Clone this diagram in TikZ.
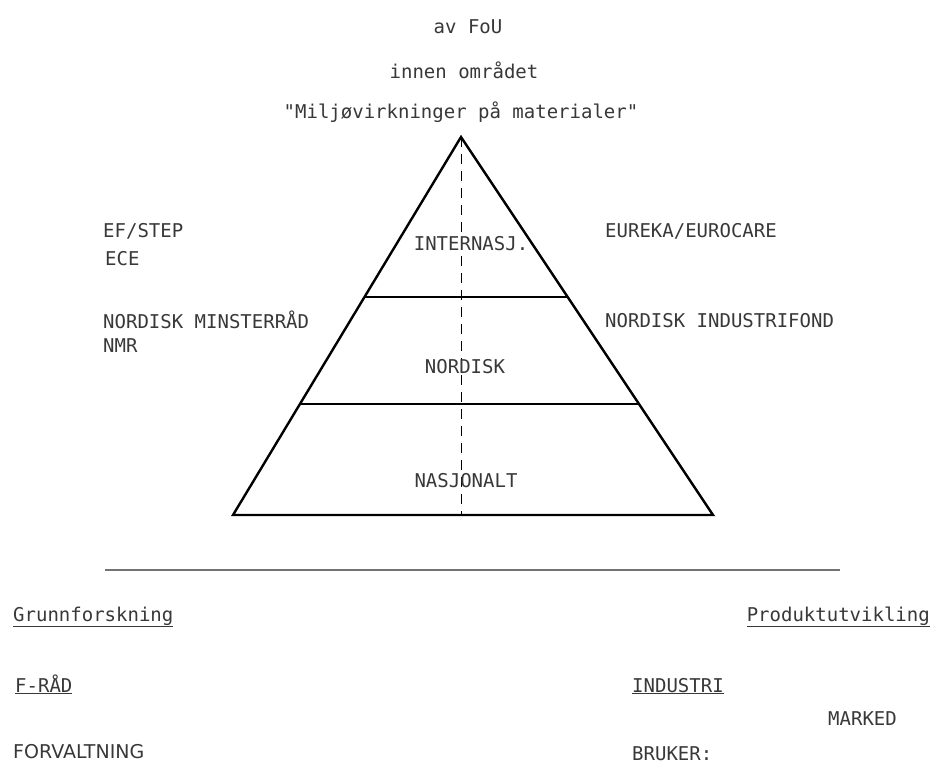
\documentclass[tikz,border=0pt]{standalone}
\usepackage{fontspec}
\setmonofont{DejaVu Sans Mono}
\newfontfamily\plainsans{DejaVu Sans}
\usetikzlibrary{calc}
\tikzstyle{lbl}=[inner sep=0pt,text=black!78,font=\fontsize{19}{19}\selectfont\ttfamily]
\tikzstyle{lblsans}=[inner sep=0pt,text=black!78,font=\fontsize{19}{19}\selectfont\plainsans]
\tikzstyle{layer}=[line width=2.4pt,line join=miter]
\tikzstyle{axis}=[line width=0.8pt,dash pattern=on 10pt off 7pt]
\tikzstyle{rule}=[line width=1.3pt,black!55]

\begin{document}
\begin{tikzpicture}[x=1pt,y=-1pt]
\useasboundingbox (0,0) rectangle (936,763);
% title
\node[lbl,anchor=base] (fou) at (468,33) {av FoU};
\node[lbl,anchor=base] (omr) at (464,78) {innen området};
\node[lbl,anchor=base] (mat) at (461,118) {"Miljøvirkninger på materialer"};

% pyramid
\coordinate (top) at (461,137);
\coordinate (bl) at (233,515);
\coordinate (br) at (713,515);
\coordinate (foot) at (461,515);
\draw[layer] (top) -- (bl) -- (br) -- cycle;
\draw[layer] ($(top)!0.423!(bl)$) -- ($(top)!0.423!(br)$);
\draw[layer] ($(top)!0.706!(bl)$) -- ($(top)!0.706!(br)$);
\draw[axis] (top) -- (foot);
\node[lbl,anchor=base] (intl) at (471,250) {INTERNASJ.};
\node[lbl,anchor=base] (nord) at (465,373) {NORDISK};
\node[lbl,anchor=base] (nasj) at (466,487) {NASJONALT};

% side labels
\node[lbl,anchor=base west] (efstep) at (103,237) {EF/STEP};
\node[lbl,anchor=base west] (ece) at (105,265) {ECE};
\node[lbl,anchor=base west] (nmrlong) at (103,328) {NORDISK MINSTERRÅD};
\node[lbl,anchor=base west] (nmr) at (103,352) {NMR};
\node[lbl,anchor=base west] (eureka) at (605,237) {EUREKA/EUROCARE};
\node[lbl,anchor=base west] (nif) at (605,327) {NORDISK INDUSTRIFOND};

% bottom part
\coordinate (rl) at (105,570);
\coordinate (rr) at (840,570);
\draw[rule] (rl) -- (rr);
\node[lbl,anchor=base west] (grunn) at (13,621) {\underline{Grunnforskning}};
\node[lbl,anchor=base east] (prod) at (930,621) {\underline{Produktutvikling}};
\node[lbl,anchor=base west] (frad) at (15,692) {\underline{F-RÅD}};
\node[lbl,anchor=base west] (ind) at (632,692) {\underline{INDUSTRI}};
\node[lbl,anchor=base west] (marked) at (828,725) {MARKED};
\node[lblsans,anchor=base west] (forv) at (13,758) {FORVALTNING};
\node[lbl,anchor=base west] (bruker) at (632,760) {BRUKER:};
\end{tikzpicture}
\end{document}
